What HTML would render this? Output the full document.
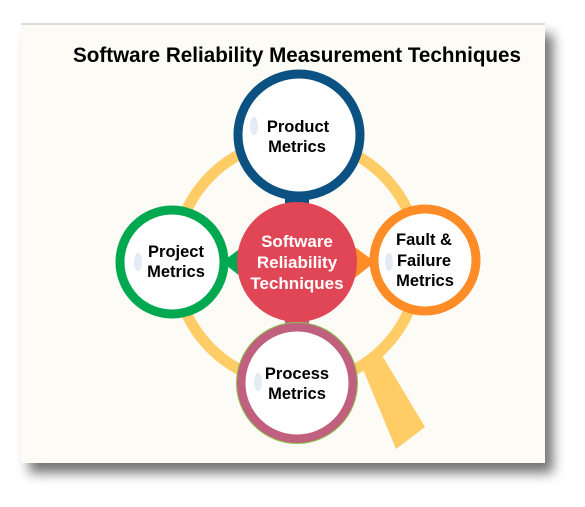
<!DOCTYPE html>
<html><head><style>
body{margin:0;width:585px;height:502px;background:#fff;overflow:hidden}
</style></head><body>
<svg width="585" height="502" viewBox="0 0 585 502" xmlns="http://www.w3.org/2000/svg">
<defs>
<filter id="sh" x="-10%" y="-10%" width="130%" height="130%">
<feGaussianBlur in="SourceAlpha" stdDeviation="6"/>
<feOffset dx="8" dy="10"/>
<feComponentTransfer><feFuncA type="linear" slope="0.55"/></feComponentTransfer>
<feMerge><feMergeNode/><feMergeNode in="SourceGraphic"/></feMerge>
</filter>
</defs>
<rect x="21" y="24" width="524" height="439" fill="#fcfbf5" filter="url(#sh)"/>
<line x1="21" y1="24" x2="545" y2="24" stroke="#bbb" stroke-width="1"/>
<text x="73" y="62" textLength="448" lengthAdjust="spacingAndGlyphs" font-family="Liberation Sans, sans-serif" font-weight="bold" font-size="21.5" fill="#000">Software Reliability Measurement Techniques</text>
<circle cx="297" cy="262" r="122" fill="none" stroke="#ffcc66" stroke-width="11"/>
<polygon points="360,362 380,352 425,427 396,449" fill="#ffcc66"/>
<rect x="285" y="195" width="24" height="20" fill="#0b5282"/>
<polygon points="222,262 245,245 245,280" fill="#00a84f"/>
<polygon points="375,262 352,245 352,280" fill="#ff8c26"/>
<rect x="285" y="310" width="24" height="20" fill="#c0607e"/>
<circle cx="297" cy="262" r="60" fill="#e04656"/>
<circle cx="299" cy="135" r="61" fill="#fff" stroke="#0b5282" stroke-width="9"/>
<circle cx="172" cy="262" r="52" fill="#fff" stroke="#00a84f" stroke-width="9"/>
<circle cx="425" cy="260" r="51" fill="#fff" stroke="#ff8c26" stroke-width="9"/>
<circle cx="297" cy="383" r="56" fill="#fff" stroke="#c0607e" stroke-width="9"/>
<circle cx="297" cy="383" r="60.5" fill="none" stroke="#8bc34a" stroke-width="1"/>
<g fill="#e4ebf5">
<ellipse cx="254" cy="126" rx="4" ry="9"/>
<ellipse cx="138" cy="262" rx="4" ry="9"/>
<ellipse cx="389" cy="262" rx="4" ry="9"/>
<ellipse cx="258" cy="382" rx="4" ry="9"/>
</g>
<g font-family="Liberation Sans, sans-serif" font-weight="bold" font-size="16.5" text-anchor="middle" fill="#000">
<text x="298" y="132">Product</text><text x="297" y="152">Metrics</text>
<text x="176" y="257">Project</text><text x="176" y="277">Metrics</text>
<text x="424" y="245">Fault &amp;</text><text x="424" y="266">Failure</text><text x="425" y="286">Metrics</text>
<text x="297" y="379">Process</text><text x="297" y="399">Metrics</text>
<g fill="#fff" font-size="17"><text x="297" y="247">Software</text><text x="297" y="268">Reliability</text><text x="297" y="289">Techniques</text></g>
</g>
</svg>
</body></html>
